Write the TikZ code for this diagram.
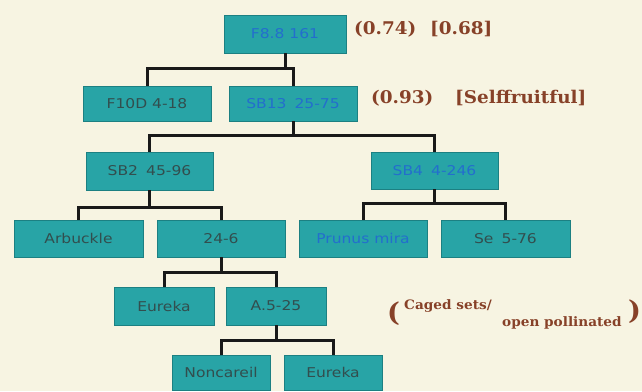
\documentclass[tikz,border=0pt]{standalone}
\usepackage{fontspec}
\newfontfamily\boxfont[FakeStretch=1.15]{DejaVu Sans}
\newfontfamily\labfont[FakeStretch=1.05]{DejaVu Serif}
\definecolor{bg}{RGB}{247,244,226}
\definecolor{tealfill}{RGB}{40,164,166}
\definecolor{tealedge}{RGB}{28,128,130}
\definecolor{txtblue}{RGB}{35,110,205}
\definecolor{txtdark}{RGB}{50,78,78}
\definecolor{brownlab}{RGB}{135,65,40}
\newcommand{\gapsp}{\hspace{0.6em}}
\tikzset{
  box/.style={fill=tealfill, draw=tealedge, line width=0.6pt, inner sep=0pt,
    font=\boxfont\fontsize{13.5}{14}\selectfont, text=txtdark},
  bluetext/.style={text=txtblue},
  conn/.style={line width=3pt, draw=black!90},
  lab/.style={font=\labfont\bfseries\fontsize{17.5}{18}\selectfont, text=brownlab, anchor=west, inner sep=0pt},
  labsmall/.style={font=\labfont\bfseries\fontsize{13}{14}\selectfont, text=brownlab, anchor=west, inner sep=0pt},
  labbig/.style={font=\labfont\bfseries\fontsize{26}{28}\selectfont, text=brownlab, anchor=west, inner sep=0pt},
}
\begin{document}
\begin{tikzpicture}[x=1pt,y=-1pt]
\fill[bg] (0,0) rectangle (642,391);
\useasboundingbox (0,0) rectangle (642,391);

% nodes
\node[box,bluetext,minimum width=122pt,minimum height=38pt] (fs) at (285,34) {F8.8 161};
\node[box,minimum width=128pt,minimum height=35pt] (f10) at (147,103.5) {F10D 4-18};
\node[box,bluetext,minimum width=128pt,minimum height=35pt] (sb13) at (293,103.5) {SB13\gapsp25-75};
\node[box,minimum width=127pt,minimum height=38pt] (sb2) at (149.5,171) {SB2\gapsp45-96};
\node[box,bluetext,minimum width=127pt,minimum height=37pt] (sb4) at (434.5,170.5) {SB4\gapsp4-246};
\node[box,minimum width=129pt,minimum height=37pt] (arb) at (78.5,238.5) {Arbuckle};
\node[box,minimum width=128pt,minimum height=37pt] (z246) at (221,238.5) {24-6};
\node[box,bluetext,minimum width=128pt,minimum height=37pt] (pru) at (363,238.5) {Prunus mira};
\node[box,minimum width=129pt,minimum height=37pt] (se) at (505.5,238.5) {Se\gapsp5-76};
\node[box,minimum width=100pt,minimum height=38pt] (eu1) at (164,306) {Eureka};
\node[box,minimum width=100pt,minimum height=38pt] (a525) at (276,306) {A.5-25};
\node[box,minimum width=98pt,minimum height=35pt] (non) at (221,372.5) {Noncareil};
\node[box,minimum width=98pt,minimum height=35pt] (eu2) at (333,372.5) {Eureka};

% connectors
\coordinate (b1) at (285,68);
\draw[conn] (fs.south) -- (b1);
\draw[conn] (f10.north) |- (b1) -| (sb13.north);

\coordinate (b2) at (293,135);
\draw[conn] (sb13.south) -- (b2);
\draw[conn] (sb2.north) |- (b2) -| (sb4.north);

\coordinate (b3) at (149.5,207);
\draw[conn] (sb2.south) -- (b3);
\draw[conn] (arb.north) |- (b3) -| (z246.north);

\coordinate (b4) at (434.5,203);
\draw[conn] (sb4.south) -- (b4);
\draw[conn] (pru.north) |- (b4) -| (se.north);

\coordinate (b5) at (221,272);
\draw[conn] (z246.south) -- (b5);
\draw[conn] (eu1.north) |- (b5) -| (a525.north);

\coordinate (b6) at (276,340);
\draw[conn] (a525.south) -- (b6);
\draw[conn] (non.north) |- (b6) -| (eu2.north);

% labels
\node[lab] (l1) at (354,29) {(0.74)};
\node[lab] (l2) at (430,29) {[0.68]};
\node[lab] (l3) at (371,98) {(0.93)};
\node[lab] (l4) at (455,98) {[Selffruitful]};

\node[labbig] (pl) at (387,314) {(};
\node[labsmall] (cs) at (404,306) {Caged sets/};
\node[labsmall] (op) at (502,323) {open pollinated};
\node[labbig] (pr) at (628,312) {)};
\end{tikzpicture}
\end{document}
